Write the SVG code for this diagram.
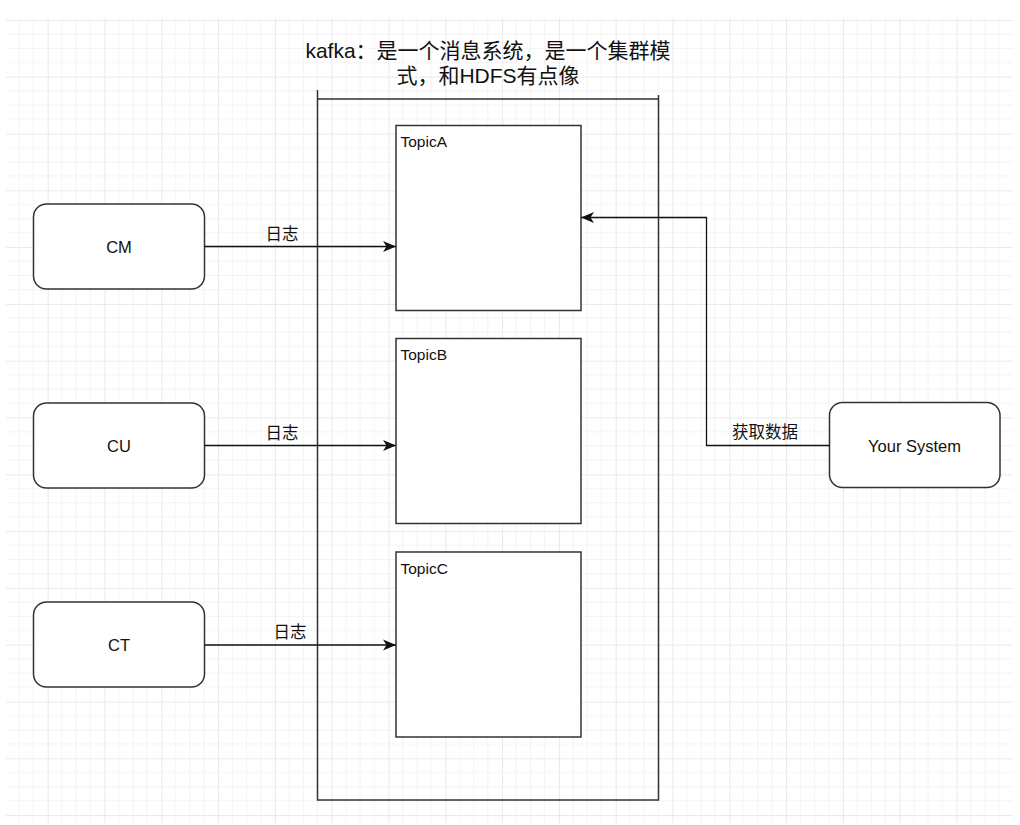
<svg xmlns="http://www.w3.org/2000/svg" width="1020" height="825" viewBox="0 0 1020 825">
<style>
.node{fill:#fff;stroke:#333;stroke-width:1.5}
.lbl{font-family:"Liberation Sans","Noto Sans CJK SC",sans-serif;fill:#111;font-size:16.5px}
.cn{font-family:"Liberation Sans","Noto Sans CJK SC",sans-serif;fill:#111;font-size:16.5px}
.edge{fill:none;stroke:#111;stroke-width:1.3}
</style>
<defs>
<pattern id="grid" patternUnits="userSpaceOnUse" x="-9.1" y="19.9" width="56.8" height="56.8">
<path d="M14.2 0V56.8M28.4 0V56.8M42.6 0V56.8M0 14.2H56.8M0 28.4H56.8M0 42.6H56.8" stroke="#f3f3f3" stroke-width="1" fill="none"/>
<path d="M0.5 0V56.8M0 0.5H56.8" stroke="#e9e9e9" stroke-width="1" fill="none"/>
</pattern>
<marker id="arr" markerUnits="userSpaceOnUse" markerWidth="14" markerHeight="12" viewBox="0 0 14 12" refX="13" refY="6" orient="auto">
<path d="M0,0.5 L13,6 L0,11.5 L3.5,6 Z" fill="#111"/>
</marker>
</defs>
<rect width="1020" height="825" fill="#fff"/>
<rect x="6" y="18" width="1007" height="805" fill="url(#grid)"/>

<g id="kafka">
<path d="M317.5 90V800H658.5V95M317.5 99H658.5" fill="none" stroke="#333" stroke-width="1.5"/>
<text x="488" y="58" text-anchor="middle" style="font-family:'Liberation Sans','Noto Sans CJK SC',sans-serif;font-size:21px;fill:#111">kafka：是一个消息系统，是一个集群模</text>
<text x="488" y="83" text-anchor="middle" style="font-family:'Liberation Sans','Noto Sans CJK SC',sans-serif;font-size:21px;fill:#111">式，和HDFS有点像</text>
</g>

<g id="topicA"><rect class="node" x="396" y="125.5" width="185" height="185"/><text class="lbl" x="400.5" y="147" style="font-size:15.5px">TopicA</text></g>
<g id="topicB"><rect class="node" x="396" y="338.5" width="185" height="185"/><text class="lbl" x="400.5" y="360" style="font-size:15.5px">TopicB</text></g>
<g id="topicC"><rect class="node" x="396" y="552" width="185" height="185"/><text class="lbl" x="400.5" y="573.5" style="font-size:15.5px">TopicC</text></g>

<g id="cm"><rect class="node" x="33.5" y="204" width="171" height="85" rx="13"/><text class="lbl" x="119" y="252.5" text-anchor="middle">CM</text></g>
<g id="cu"><rect class="node" x="33.5" y="403" width="171" height="85" rx="13"/><text class="lbl" x="119" y="451.5" text-anchor="middle">CU</text></g>
<g id="ct"><rect class="node" x="33.5" y="602" width="171" height="85" rx="13"/><text class="lbl" x="119" y="650.5" text-anchor="middle">CT</text></g>
<g id="yoursystem"><rect class="node" x="829.5" y="402.5" width="170.5" height="85" rx="13"/><text class="lbl" x="914.5" y="451.5" text-anchor="middle">Your System</text></g>

<g id="connectors">
<path class="edge" d="M204.5 246.5H396" marker-end="url(#arr)"/>
<path class="edge" d="M204.5 445.5H396" marker-end="url(#arr)"/>
<path class="edge" d="M204.5 645H396" marker-end="url(#arr)"/>
<path class="edge" d="M829.5 445.5H706.5V217.5H581" marker-end="url(#arr)"/>
<text class="cn" x="282" y="240" text-anchor="middle">日志</text>
<text class="cn" x="282" y="439" text-anchor="middle">日志</text>
<text class="cn" x="290" y="638" text-anchor="middle">日志</text>
<text class="cn" x="765" y="438" text-anchor="middle">获取数据</text>
</g>
</svg>
